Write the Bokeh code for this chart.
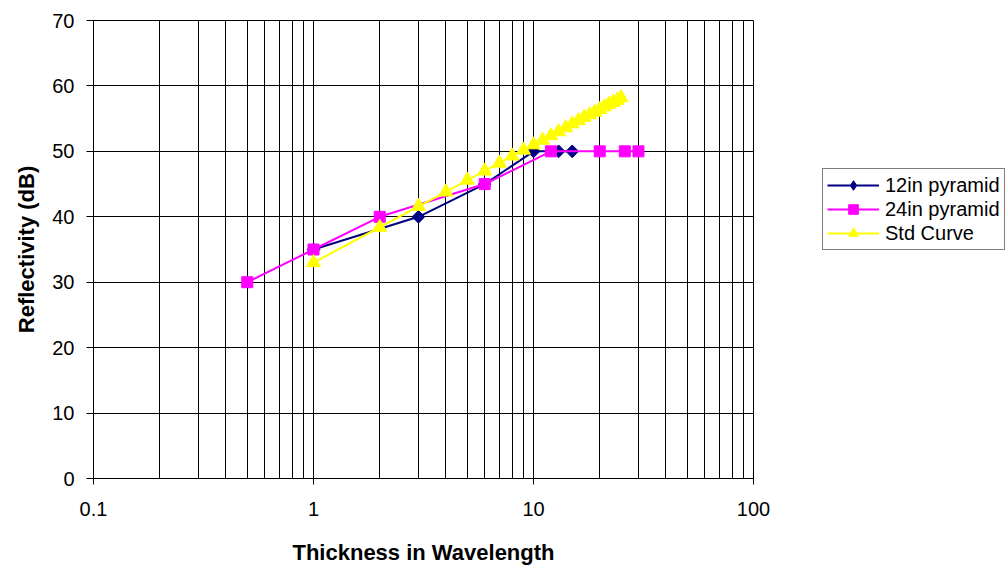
import numpy as np
from bokeh.plotting import figure
from bokeh.models import Range1d, FixedTicker, Legend, LegendItem
from bokeh.embed import file_html
from bokeh.resources import INLINE

# ---- data ----
x_12in = [1, 3, 6, 10, 13, 15]
y_12in = [35, 40, 45, 50, 50, 50]

x_24in = [0.5, 1, 2, 6, 12, 20, 26, 30]
y_24in = [30, 35, 40, 45, 50, 50, 50, 50]

x_std = [1, 2, 3, 4, 5, 6, 7, 8, 9, 10, 11, 12, 13, 14, 15, 16, 17, 18, 19, 20, 21, 22, 23, 24, 25]
y_std = [33, 38.4, 41.6, 43.8, 45.6, 47.0, 48.2, 49.3, 50.2, 51.0, 51.7, 52.4, 53.0, 53.6,
         54.2, 54.7, 55.2, 55.6, 56.0, 56.4, 56.8, 57.2, 57.5, 57.8, 58.2]

x_major = [0.1, 1, 10, 100]
x_minor = [0.2, 0.3, 0.4, 0.5, 0.6, 0.7, 0.8, 0.9,
           2, 3, 4, 5, 6, 7, 8, 9,
           20, 30, 40, 50, 60, 70, 80, 90]
x_labels = {0.1: "0.1", 1: "1", 10: "10", 100: "100"}
y_ticks = [0, 10, 20, 30, 40, 50, 60, 70]

series_names = ["12in pyramid", "24in pyramid", "Std Curve"]
FONT = "Liberation Sans"

p = figure(frame_width=660, frame_height=458, x_axis_type="log",
           x_range=Range1d(0.1, 100), y_range=Range1d(0, 70),
           output_backend="svg", toolbar_location=None,
           min_border_left=93, min_border_right=0, min_border_top=20, min_border_bottom=90)
p.background_fill_color = "white"
p.border_fill_color = "white"
p.outline_line_color = "black"

# axes
p.xaxis.ticker = FixedTicker(ticks=x_major, minor_ticks=x_minor)
p.xaxis.major_label_overrides = x_labels
p.yaxis.ticker = FixedTicker(ticks=y_ticks)
for ax in (p.xaxis[0], p.yaxis[0]):
    ax.axis_line_color = "black"
    ax.major_tick_line_color = "black"
    ax.major_tick_in = 0
    ax.minor_tick_in = 0
    ax.minor_tick_out = 0
    ax.major_label_text_font = FONT
    ax.major_label_text_font_size = "20px"
    ax.major_label_text_color = "black"
    ax.axis_label_text_font = FONT
    ax.axis_label_text_font_size = "22px"
    ax.axis_label_text_font_style = "bold"
    ax.axis_label_text_color = "black"
p.xaxis.major_tick_out = 6
p.yaxis.major_tick_out = 7
p.xaxis.major_label_standoff = 17
p.yaxis.major_label_standoff = 12
p.xaxis.axis_label = "Thickness in Wavelength"
p.yaxis.axis_label = "Reflectivity (dB)"
p.xaxis.axis_label_standoff = 21
p.yaxis.axis_label_standoff = 10

# grid
p.xgrid.grid_line_color = "black"
p.xgrid.minor_grid_line_color = "black"
p.xgrid.ticker = FixedTicker(ticks=x_major, minor_ticks=x_minor)
p.ygrid.grid_line_color = "black"
p.ygrid.ticker = FixedTicker(ticks=y_ticks)

# series
l1 = p.line(x_12in, y_12in, line_color="#000080", line_width=2)
m1 = p.scatter(x_12in, y_12in, marker="square", angle=np.pi / 4, size=9,
               fill_color="#000080", line_color="#000080")
l2 = p.line(x_24in, y_24in, line_color="#FF00FF", line_width=2)
m2 = p.scatter(x_24in, y_24in, marker="square", size=11,
               fill_color="#FF00FF", line_color="#FF00FF")
l3 = p.line(x_std, y_std, line_color="#FFFF00", line_width=2)
m3 = p.scatter(x_std, y_std, marker="triangle", size=14,
               fill_color="#FFFF00", line_color="#FFFF00")
# legend-only diamond glyph (no data points, draws nothing in the plot)
leg_d = p.scatter([np.nan], [np.nan], marker="diamond", size=12,
                  fill_color="#000080", line_color="#000080")

legend = Legend(items=[
    LegendItem(label=series_names[0], renderers=[l1, leg_d]),
    LegendItem(label=series_names[1], renderers=[l2, m2]),
    LegendItem(label=series_names[2], renderers=[l3, m3]),
], location=(69, 228))
legend.label_text_font = FONT
legend.label_text_font_size = "20px"
legend.label_text_color = "black"
legend.glyph_width = 52
legend.glyph_height = 24
legend.label_height = 20
legend.spacing = 0
legend.padding = 4
legend.margin = 0
legend.label_standoff = 6
legend.border_line_color = "black"
legend.border_line_width = 1
legend.background_fill_color = "white"
legend.background_fill_alpha = 1
p.add_layout(legend, "right")

open("out.html", "w").write(file_html(p, INLINE))
